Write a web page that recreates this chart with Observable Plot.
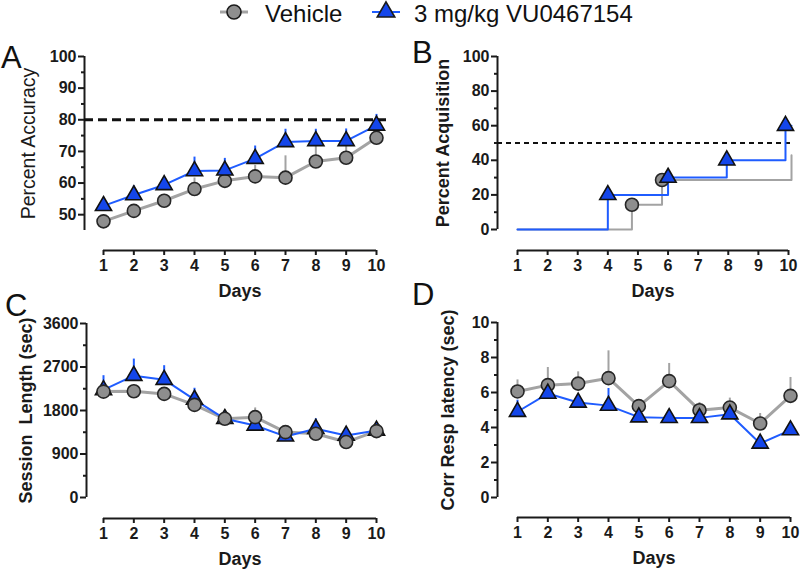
<!DOCTYPE html>
<html><head><meta charset="utf-8">
<script src="https://cdn.jsdelivr.net/npm/d3@7"></script>
<script src="https://cdn.jsdelivr.net/npm/@observablehq/plot@0.6"></script>
<style>
body{margin:0;background:#fff;}
#wrap{position:relative;width:800px;height:576px;font-family:"Liberation Sans",Arial,sans-serif;overflow:hidden;background:#fff;}
.panel{position:absolute;}
.panel svg{overflow:visible;}
.letter{position:absolute;font-size:31px;line-height:1;color:#111;}
.leg{position:absolute;font-size:24px;line-height:1;color:#111;white-space:nowrap;}
.legsym{position:absolute;}
</style></head><body><div id="wrap"></div>
<script>
// ---------- data ----------
const days = [1, 2, 3, 4, 5, 6, 7, 8, 9, 10];
const seriesNames = ["Vehicle", "3 mg/kg VU0467154"];

// Panel A: Percent Accuracy (mean, upper SEM)
const vehA    = [47.9, 51.2, 54.4, 58.1, 60.7, 62.1, 61.7, 66.8, 68.0, 74.3];
const vehAErr = [1.5, 2.0, 2.0, 3.5, 3.0, 3.5, 6.9, 6.0, 4.0, 2.5];
const drgA    = [52.8, 56.2, 59.4, 63.8, 64.0, 67.7, 73.0, 73.3, 73.3, 78.2];
const drgAErr = [1.5, 2.9, 2.6, 4.4, 3.8, 4.0, 4.0, 3.7, 3.8, 3.5];
const criterionA = 80;

// Panel B: Percent Acquisition (cumulative steps)
const vehBDay = [1, 4.8, 5.8, 10.1, 10.1];
const vehBPct = [0, 14.3, 28.6, 28.6, 42.9];
const vehBMarkDay = [4.8, 5.8];
const vehBMarkPct = [14.3, 28.6];
const drgBDay = [1, 4.0, 6.0, 7.95, 9.9, 10.1];
const drgBPct = [0, 20, 30, 40, 60, 60];
const drgBMarkDay = [4.0, 6.0, 7.95, 9.9];
const drgBMarkPct = [20, 30, 40, 60];
const criterionB = 50;

// Panel C: Session Length (sec)
const vehC    = [2191, 2198, 2143, 1916, 1628, 1662, 1353, 1319, 1147, 1374];
const vehCErr = [150, 130, 120, 150, 100, 192, 100, 120, 100, 80];
const drgC    = [2225, 2520, 2438, 2026, 1628, 1490, 1264, 1422, 1284, 1387];
const drgCErr = [295, 344, 289, 234, 172, 120, 100, 206, 138, 158];

// Panel D: Corr Resp latency (sec)
const vehD    = [6.06, 6.42, 6.51, 6.82, 5.22, 6.65, 4.99, 5.14, 4.23, 5.81];
const vehDErr = [0.66, 1.01, 0.67, 1.56, 0.30, 1.01, 0.44, 0.54, 0.57, 1.05];
const drgD    = [4.90, 5.94, 5.43, 5.25, 4.59, 4.55, 4.55, 4.76, 3.09, 3.85];
const drgDErr = [0.66, 0.20, 0.44, 0.98, 0.20, 0.44, 0.25, 0.25, 0.30, 0.25];

// axis ticks
const ticksA = [50, 60, 70, 80, 90, 100], minorA = [55, 65, 75, 85, 95];
const ticksB = [0, 20, 40, 60, 80, 100], minorB = [10, 30, 50, 70, 90];
const ticksC = [0, 900, 1800, 2700, 3600], minorC = [450, 1350, 2250, 3150];
const ticksD = [0, 2, 4, 6, 8, 10], minorD = [1, 3, 5, 7, 9];

// ---------- style ----------
const FONT = '"Liberation Sans", Arial, sans-serif';
const INK = "#1a1a1a";
const GREY_LINE = "#a3a3a3", GREY_FILL = "#8e8e8e";
const BLUE_LINE = "#1f5cff", BLUE_FILL = "#1446ea";

const rows = (v, e) => days.map((d, i) => ({day: d, v: v[i], e: e ? e[i] : 0}));
const pts = (xs, ys) => xs.map((x, i) => ({day: x, v: ys[i]}));

function seriesMarks(data, kind) {
  const grey = kind === "veh";
  return {
    err: Plot.ruleX(data, {x: "day", y1: "v", y2: d => d.v + d.e, stroke: grey ? GREY_LINE : BLUE_LINE, strokeWidth: 2}),
    line: Plot.line(data, {x: "day", y: "v", stroke: grey ? GREY_LINE : BLUE_LINE, strokeWidth: grey ? 3 : 2}),
    dot: grey
      ? Plot.dot(data, {x: "day", y: "v", symbol: "circle", r: 6.5, fill: GREY_FILL, stroke: "#262626", strokeWidth: 1.6})
      : Plot.dot(data, {x: "day", y: "v", symbol: "triangle", r: 6, fill: BLUE_FILL, stroke: "#111", strokeWidth: 1.6})
  };
}

function makePanel(cfg, dataMarks) {
  const [yMin, yMax] = cfg.yDomain;
  const svg = Plot.plot({
    width: cfg.width, height: cfg.height,
    marginLeft: cfg.marginLeft, marginRight: cfg.marginRight,
    marginTop: cfg.marginTop, marginBottom: cfg.marginBottom,
    style: {fontFamily: FONT, fontSize: "16px", fontWeight: "bold", color: INK, background: "transparent", overflow: "visible"},
    x: {domain: [days[0], days[days.length - 1]], insetLeft: cfg.insetLeft, insetRight: cfg.insetRight, label: null},
    y: {domain: cfg.yDomain, insetBottom: cfg.gap, label: null},
    marks: [
      // y axis line (at frame left) and x axis line (offset below)
      Plot.ruleX([days[0]], {x: d => d, y1: yMin, y2: yMax, dx: -cfg.insetLeft, stroke: INK, strokeWidth: 2}),
      Plot.ruleY([yMin], {y: d => d, x1: days[0], x2: days[days.length - 1], dy: cfg.gap, stroke: INK, strokeWidth: 2}),
      Plot.axisY(cfg.yTicks, {tickSize: 6, tickPadding: 2, strokeWidth: 2, stroke: INK, fill: INK, label: null, tickFormat: d => String(d)}),
      Plot.axisY(cfg.yMinor, {tickSize: 3, tickFormat: () => "", strokeWidth: 2, stroke: INK, label: null}),
      Plot.axisX(days, {tickSize: 5, tickPadding: 4, strokeWidth: 2, stroke: INK, fill: INK, label: null, tickFormat: d => String(d)}),
      Plot.text([cfg.ylabel], {text: d => d, frameAnchor: "left", y: () => (yMin + yMax) / 2, dx: cfg.labelDx, rotate: -90,
        fontSize: cfg.labelSize, fontWeight: cfg.labelWeight, fill: INK, textAnchor: "middle", lineAnchor: "middle"}),
      Plot.text(["Days"], {text: d => d, x: () => (days[0] + days[days.length - 1]) / 2, frameAnchor: "bottom", dy: 41,
        fontSize: 18, fontWeight: "bold", fill: INK, textAnchor: "middle", lineAnchor: "middle"}),
      ...dataMarks
    ]
  });
  const div = document.createElement("div");
  div.className = "panel";
  div.style.left = cfg.left + "px";
  div.style.top = cfg.top + "px";
  div.appendChild(svg);
  document.getElementById("wrap").appendChild(div);
}

// ---------- Panel A ----------
{
  const v = seriesMarks(rows(vehA, vehAErr), "veh");
  const b = seriesMarks(rows(drgA, drgAErr), "drg");
  makePanel({left: 0, top: 30, width: 400, height: 270, marginLeft: 84, marginRight: 14, marginTop: 26, marginBottom: 50,
    insetLeft: 19, insetRight: 10, gap: 20, yDomain: [45, 100], yTicks: ticksA, yMinor: minorA,
    ylabel: "Percent Accuracy", labelDx: -56, labelSize: 19.5, labelWeight: "normal"},
    [Plot.ruleY([criterionA], {y: d => d, stroke: "#111", strokeWidth: 3, strokeDasharray: "9,5"}),
     v.err, b.err, v.line, b.line, v.dot, b.dot]);
}

// ---------- Panel B ----------
{
  const vl = pts(vehBDay, vehBPct), bl = pts(drgBDay, drgBPct);
  const vm = pts(vehBMarkDay, vehBMarkPct), bm = pts(drgBMarkDay, drgBMarkPct);
  makePanel({left: 400, top: 30, width: 400, height: 270, marginLeft: 97, marginRight: 9, marginTop: 26, marginBottom: 50,
    insetLeft: 20, insetRight: 3, gap: 21, yDomain: [0, 100], yTicks: ticksB, yMinor: minorB,
    ylabel: "Percent Acquisition", labelDx: -54, labelSize: 18, labelWeight: "bold"},
    [Plot.ruleY([criterionB], {y: d => d, stroke: "#111", strokeWidth: 2, strokeDasharray: "5,4"}),
     Plot.line(vl, {x: "day", y: "v", curve: "step-after", stroke: GREY_LINE, strokeWidth: 2}),
     Plot.line(bl, {x: "day", y: "v", curve: "step-after", stroke: BLUE_LINE, strokeWidth: 2}),
     Plot.dot(vm, {x: "day", y: "v", symbol: "circle", r: 6.5, fill: GREY_FILL, stroke: "#262626", strokeWidth: 1.6}),
     Plot.dot(bm, {x: "day", y: "v", symbol: "triangle", r: 6, fill: BLUE_FILL, stroke: "#111", strokeWidth: 1.6})]);
}

// ---------- Panel C ----------
{
  const v = seriesMarks(rows(vehC, vehCErr), "veh");
  const b = seriesMarks(rows(drgC, drgCErr), "drg");
  makePanel({left: 0, top: 300, width: 400, height: 276, marginLeft: 86, marginRight: 14, marginTop: 23, marginBottom: 58,
    insetLeft: 17, insetRight: 10, gap: 21, yDomain: [0, 3600], yTicks: ticksC, yMinor: minorC,
    ylabel: "Session\u00a0 Length (sec)", labelDx: -60, labelSize: 18, labelWeight: "bold"},
    [v.err, b.err, v.line, b.line, b.dot, v.dot]);
}

// ---------- Panel D ----------
{
  const v = seriesMarks(rows(vehD, vehDErr), "veh");
  const b = seriesMarks(rows(drgD, drgDErr), "drg");
  makePanel({left: 400, top: 300, width: 400, height: 276, marginLeft: 97, marginRight: 2, marginTop: 22, marginBottom: 59,
    insetLeft: 20, insetRight: 8, gap: 20, yDomain: [0, 10], yTicks: ticksD, yMinor: minorD,
    ylabel: "Corr Resp latency (sec)", labelDx: -49, labelSize: 18, labelWeight: "bold"},
    [v.err, b.err, v.line, b.line, v.dot, b.dot]);
}

// ---------- panel letters ----------
const wrap = document.getElementById("wrap");
[["A", 1, 42], ["B", 412, 37], ["C", 5, 290], ["D", 412, 279]].forEach(([t, x, y]) => {
  const el = document.createElement("div");
  el.className = "letter"; el.textContent = t;
  el.style.left = x + "px"; el.style.top = y + "px";
  wrap.appendChild(el);
});

// ---------- legend ----------
function legendSymbol(x, kind) {
  const ns = "http://www.w3.org/2000/svg";
  const s = document.createElementNS(ns, "svg");
  s.setAttribute("width", 32); s.setAttribute("height", 24);
  s.setAttribute("class", "legsym");
  s.style.left = x + "px"; s.style.top = "0px";
  const ln = document.createElementNS(ns, "line");
  ln.setAttribute("x1", 2); ln.setAttribute("x2", 30); ln.setAttribute("y1", 12); ln.setAttribute("y2", 12);
  ln.setAttribute("stroke", kind === "veh" ? GREY_LINE : BLUE_LINE); ln.setAttribute("stroke-width", kind === "veh" ? 3 : 2);
  s.appendChild(ln);
  const p = document.createElementNS(ns, "path");
  const sym = kind === "veh" ? d3.symbolCircle : d3.symbolTriangle;
  const r = kind === "veh" ? 7 : 6.5;
  p.setAttribute("d", d3.symbol(sym, Math.PI * r * r)());
  p.setAttribute("transform", "translate(16,12)");
  p.setAttribute("fill", kind === "veh" ? GREY_FILL : BLUE_FILL);
  p.setAttribute("stroke", "#1a1a1a"); p.setAttribute("stroke-width", 1.6);
  s.appendChild(p);
  wrap.appendChild(s);
}
legendSymbol(218, "veh");
legendSymbol(370, "drg");
[[seriesNames[0], 265], [seriesNames[1], 414]].forEach(([t, x]) => {
  const el = document.createElement("div");
  el.className = "leg"; el.textContent = t;
  el.style.left = x + "px"; el.style.top = "2px";
  wrap.appendChild(el);
});
</script></body></html>
